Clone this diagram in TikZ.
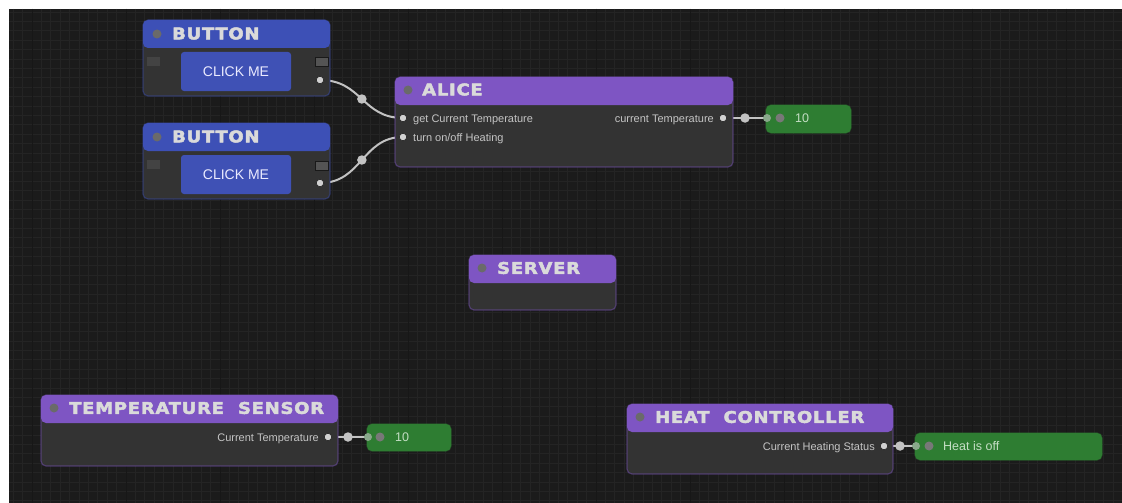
\documentclass[tikz,border=0pt]{standalone}
\usepackage{fontspec}
\setmainfont{Liberation Sans}
\newfontfamily\titlefont{DejaVu Sans}[UprightFont={* Bold},LetterSpace=5,FakeStretch=1.12,FakeBold=3]
\pgfdeclarelayer{canvas}
\pgfdeclarelayer{wires}
\pgfsetlayers{canvas,wires,main}

\definecolor{canvasbg}{HTML}{1B1B1B}
\definecolor{gridminor}{HTML}{242424}
\definecolor{gridmajor}{HTML}{171717}
\definecolor{cardbody}{HTML}{333333}
\definecolor{hdrblue}{HTML}{3D50B6}
\definecolor{hdrpurple}{HTML}{7E55C3}
\definecolor{btnblue}{HTML}{3F51B5}
\definecolor{valgreen}{HTML}{2E7D32}
\definecolor{titlegrey}{HTML}{DADADA}
\definecolor{labelgrey}{HTML}{C4C4C4}
\definecolor{wiregrey}{HTML}{C2C2C2}
\definecolor{hdrdotgrey}{HTML}{6A6A6A}

\tikzset{
  card/.style={rectangle, rounded corners=5pt, fill=cardbody, draw=#1,
    draw opacity=0.45, line width=1.2pt, inner sep=0pt, outer sep=0pt,
    anchor=north west,
    path picture={\fill[#1] (path picture bounding box.north west)
      rectangle ([yshift=-28pt]path picture bounding box.north east);}},
  valuecard/.style={rectangle, rounded corners=5pt, fill=valgreen,
    draw=valgreen, draw opacity=0.5, line width=1.2pt, inner sep=0pt,
    outer sep=0pt, anchor=north west, minimum height=28pt},
  hdrdot/.style={circle, fill=hdrdotgrey, inner sep=0pt, minimum size=9pt},
  title/.style={font=\titlefont\fontsize{16}{19}\selectfont,
    text=titlegrey, inner sep=0pt, anchor=west},
  portlabel/.style={font=\fontsize{11}{13}\selectfont, text=labelgrey,
    inner sep=0pt},
  valuetext/.style={font=\fontsize{12.5}{15}\selectfont, text=titlegrey!90!green,
    inner sep=0pt, anchor=base west},
  port/.style={circle, fill=black!18, draw=black!85, line width=0.6pt,
    inner sep=0pt, minimum size=7.5pt},
  valueport/.style={circle, fill=white!45!valgreen!70!gray, inner sep=0pt,
    minimum size=8pt},
  valuedot/.style={circle, fill=black!53, inner sep=0pt, minimum size=9pt},
  middot/.style={circle, fill=wiregrey, inner sep=0pt, minimum size=9.5pt},
  wire/.style={draw=wiregrey, line width=2pt},
  clickbtn/.style={rectangle, rounded corners=3pt, fill=btnblue,
    minimum width=110pt, minimum height=39pt, inner sep=0pt,
    font=\fontsize{14}{16}\selectfont, text=white!92!blue},
  slotleft/.style={rectangle, fill=white!8!cardbody,
    minimum width=13pt, minimum height=9pt, inner sep=0pt},
  slotright/.style={rectangle, fill=black!67, draw=black!90, line width=1pt,
    minimum width=13pt, minimum height=9pt, inner sep=0pt},
}

\begin{document}
\begin{tikzpicture}[x=1pt,y=-1pt]
\useasboundingbox (0,0) rectangle (1122,503);

% editor canvas with its grid
\begin{pgfonlayer}{canvas}
  \fill[white] (0,0) rectangle (1122,503);
  \fill[canvasbg] (9,9) rectangle (1122,503);
  \foreach \x in {13.2,22.6,...,1122}
    \draw[gridminor, line width=0.8pt] (\x,9) -- (\x,503);
  \foreach \y in {12,21.4,...,503}
    \draw[gridminor, line width=0.8pt] (9,\y) -- (1122,\y);
  \foreach \x in {32,126,...,1122}
    \draw[gridmajor, line width=1pt] (\x,9) -- (\x,503);
\end{pgfonlayer}

% ---- Button A ----
\node[card=hdrblue, minimum width=187pt, minimum height=76pt] (btnA) at (143,20) {};
\node[hdrdot] (btnAdot) at (157,34) {};
\node[title] (btnAtitle) at (172,33.5) {BUTTON};
\node[slotleft] (btnAslotL) at (153.5,61.5) {};
\node[slotright] (btnAslotR) at (321.5,62.5) {};
\node[clickbtn] (btnAclick) at (236,71.5) {CLICK ME};
\node[port] (btnAout) at (320,80) {};

% ---- Button B ----
\node[card=hdrblue, minimum width=187pt, minimum height=76pt] (btnB) at (143,123) {};
\node[hdrdot] (btnBdot) at (157,137) {};
\node[title] (btnBtitle) at (172,136.5) {BUTTON};
\node[slotleft] (btnBslotL) at (153.5,164.5) {};
\node[slotright] (btnBslotR) at (321.5,165.5) {};
\node[clickbtn] (btnBclick) at (236,174.5) {CLICK ME};
\node[port] (btnBout) at (320,183) {};

% ---- Alice ----
\node[card=hdrpurple, minimum width=338pt, minimum height=90pt] (alice) at (395,77) {};
\node[hdrdot] (alicedot) at (408,90) {};
\node[title] (alicetitle) at (422,89.5) {ALICE};
\node[port] (aliceIn1) at (403,118) {};
\node[port] (aliceIn2) at (403,137) {};
\node[port] (aliceOut) at (723,118) {};
\node[portlabel, anchor=base west] (aliceIn1lbl) at (413,122) {get Current Temperature};
\node[portlabel, anchor=base west] (aliceIn2lbl) at (413,141) {turn on/off Heating};
\node[portlabel, anchor=base east] (aliceOutlbl) at (714,122) {current Temperature};

% ---- Value A ----
\node[valuecard, minimum width=85pt] (valA) at (766,105) {};
\node[valueport] (valAin) at (767,118) {};
\node[valuedot] (valAdot) at (780,118) {};
\node[valuetext] (valAtext) at (795,122.5) {10};

% ---- Server ----
\node[card=hdrpurple, minimum width=147pt, minimum height=55pt] (server) at (469,255) {};
\node[hdrdot] (serverdot) at (482,268) {};
\node[title] (servertitle) at (497,268) {SERVER};

% ---- Temperature sensor ----
\node[card=hdrpurple, minimum width=297pt, minimum height=71pt] (sensor) at (41,395) {};
\node[hdrdot] (sensordot) at (54,408) {};
\node[title] (sensortitle) at (69,408) {TEMPERATURE~~SENSOR};
\node[port] (sensorOut) at (328,437) {};
\node[portlabel, anchor=base east] (sensorOutlbl) at (319,441) {Current Temperature};

% ---- Value B ----
\node[valuecard, minimum width=84pt, minimum height=27pt] (valB) at (367,424) {};
\node[valueport] (valBin) at (368,437) {};
\node[valuedot] (valBdot) at (380,437) {};
\node[valuetext] (valBtext) at (395,441.5) {10};

% ---- Heat controller ----
\node[card=hdrpurple, minimum width=266pt, minimum height=70pt] (heat) at (627,404) {};
\node[hdrdot] (heatdot) at (640,417) {};
\node[title] (heattitle) at (655,417) {HEAT~~CONTROLLER};
\node[port] (heatOut) at (884,446) {};
\node[portlabel, anchor=base east] (heatOutlbl) at (875,450) {Current Heating Status};

% ---- Value C ----
\node[valuecard, minimum width=187pt, minimum height=27pt] (valC) at (915,433) {};
\node[valueport] (valCin) at (916,446) {};
\node[valuedot] (valCdot) at (929,446) {};
\node[valuetext] (valCtext) at (943,450.5) {Heat is off};

% ---- connections ----
\begin{pgfonlayer}{wires}
  \draw[wire] (btnAout.center) .. controls (362,80) and (362,118) .. (aliceIn1.center)
    node[middot, pos=0.5] (wireAmid) {};
  \draw[wire] (btnBout.center) .. controls (362,183) and (362,137) .. (aliceIn2.center)
    node[middot, pos=0.5] (wireBmid) {};
  \draw[wire] (aliceOut.center) -- (valAin.center) node[middot, pos=0.5] (wireCmid) {};
  \draw[wire] (sensorOut.center) -- (valBin.center) node[middot, pos=0.5] (wireDmid) {};
  \draw[wire] (heatOut.center) -- (valCin.center) node[middot, pos=0.5] (wireEmid) {};
\end{pgfonlayer}
\end{tikzpicture}
\end{document}
